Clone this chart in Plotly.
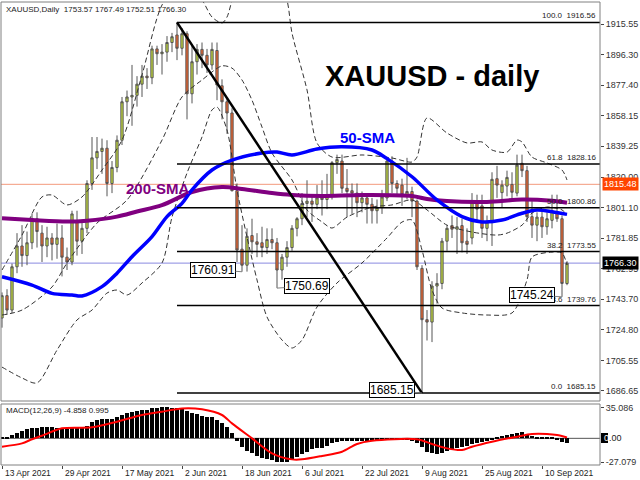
import plotly.graph_objects as go

# ---------------- data ----------------
date_labels = ["13 Apr 2021", "29 Apr 2021", "17 May 2021", "2 Jun 2021", "18 Jun 2021",
               "6 Jul 2021", "22 Jul 2021", "9 Aug 2021", "25 Aug 2021", "10 Sep 2021"]
date_label_idx = [0, 12, 24, 36, 48, 60, 72, 84, 96, 108]

open_ = [1732, 1746, 1737, 1764, 1777, 1771, 1779, 1794, 1785, 1777,
         1782, 1778, 1782, 1770, 1767, 1792, 1780, 1788, 1816, 1832,
         1836, 1838, 1816, 1826, 1843, 1867, 1870, 1871, 1878, 1883,
         1882, 1900, 1897, 1898, 1904, 1908.7, 1900.4, 1909.5, 1872, 1892,
         1899.7, 1896, 1890, 1899, 1877, 1867, 1860, 1811.5, 1775, 1765,
         1783.5, 1779.6, 1779, 1776, 1781, 1779, 1762, 1770, 1776, 1788,
         1794, 1803.5, 1805, 1803, 1807, 1806, 1808, 1829, 1830, 1813,
         1811.5, 1810, 1804, 1807, 1803, 1799, 1801, 1807, 1830, 1816,
         1815, 1809, 1811, 1805, 1763, 1731, 1729.5, 1752, 1753.6, 1780,
         1789.7, 1787.5, 1789.7, 1780, 1782, 1804.6, 1802, 1788, 1792, 1819,
         1810.3, 1814.4, 1815.4, 1810, 1828.6, 1824, 1795.3, 1790, 1795, 1789,
         1793, 1797.5, 1794, 1753.57]
high = [1748, 1750, 1766, 1785, 1790, 1786, 1797, 1798, 1790, 1789,
        1785, 1791, 1790, 1776, 1799, 1799, 1793, 1818, 1845, 1845,
        1844, 1843, 1830, 1846, 1870, 1874, 1890, 1883, 1890, 1888,
        1902, 1902, 1903, 1908, 1910, 1916.56, 1913, 1911, 1903, 1903,
        1904, 1900, 1904, 1904, 1881, 1870, 1863, 1816, 1790, 1788,
        1794, 1785, 1789, 1788, 1788, 1782, 1772, 1780, 1790, 1795,
        1810, 1818, 1808, 1815, 1818, 1822, 1830, 1834, 1834, 1825,
        1816, 1816, 1811, 1810, 1807, 1806, 1812, 1832, 1833, 1818,
        1819, 1832, 1814, 1806, 1765, 1737, 1755, 1760, 1782, 1790,
        1796, 1795, 1794, 1788, 1810, 1809, 1809, 1796, 1823, 1827,
        1818, 1824, 1823, 1834, 1834, 1827, 1805, 1798, 1800, 1798,
        1809, 1809, 1796, 1767.49]
low = [1726, 1734, 1735, 1760, 1764, 1765, 1775, 1776, 1767, 1770,
       1768, 1769, 1758, 1762, 1765, 1771, 1772, 1785, 1812, 1825,
       1822, 1808, 1810, 1823, 1840, 1858, 1852, 1864, 1870, 1875,
       1878, 1890, 1884, 1892, 1898, 1893, 1896, 1856, 1866, 1884,
       1888, 1885, 1887, 1868, 1856, 1847, 1811, 1767, 1760.91, 1761,
       1772, 1770, 1770, 1772, 1775, 1750.69, 1756, 1764, 1774, 1783,
       1790, 1795, 1792, 1800, 1796, 1800, 1806, 1822, 1810, 1795,
       1797, 1795, 1798, 1791, 1791, 1791, 1797, 1805, 1810, 1808,
       1802, 1806, 1795, 1762, 1685.15, 1718, 1717, 1741, 1750, 1774,
       1782, 1772, 1773, 1772, 1778, 1792, 1782, 1780, 1777, 1807,
       1801, 1808, 1806, 1808, 1820, 1792, 1782, 1780, 1782, 1784,
       1788, 1792, 1745.24, 1752.51]
close = [1746, 1737, 1764, 1777, 1771, 1779, 1794, 1786, 1777, 1782,
         1778, 1782, 1770, 1767, 1797, 1780, 1788, 1816, 1832, 1836,
         1838, 1816, 1826, 1843, 1867, 1870, 1871, 1878, 1883, 1882,
         1900, 1897, 1898, 1904, 1907.6, 1900.4, 1909.5, 1872, 1892, 1899.7,
         1896, 1890, 1899.7, 1877.5, 1867, 1860, 1811.5, 1774.5, 1765, 1783,
         1779.6, 1778, 1776, 1781, 1779, 1762, 1770, 1776, 1788, 1794,
         1803.5, 1805, 1803, 1807, 1806, 1808, 1829, 1831, 1813, 1811,
         1810, 1804, 1807, 1803, 1799, 1801, 1807.6, 1830, 1816, 1813,
         1809, 1811, 1805, 1764, 1731, 1729.5, 1752, 1753.6, 1780, 1788,
         1787.5, 1789, 1779, 1778, 1804.6, 1800, 1788, 1792, 1818.6, 1815,
         1815, 1819.8, 1810.5, 1827.5, 1824, 1795.3, 1790, 1795, 1789, 1794,
         1799, 1794, 1753.6, 1766.30]

sma50_idx = [0, 6, 10, 14, 16, 20, 23, 26, 30, 33, 36, 38, 42, 46, 52, 55, 58, 63,
             68, 74, 77, 82, 87, 92, 96, 100, 104, 107, 110, 113]
sma50_val = [1757.8, 1752.6, 1747.4, 1746.4, 1745.8, 1751.6, 1760, 1770.3, 1782.8,
             1795.3, 1803.6, 1812, 1824.4, 1830.6, 1835, 1835.6, 1833.8, 1837.5,
             1838.9, 1836.9, 1831.5, 1820.2, 1805.7, 1795.3, 1792, 1793.2, 1797.4,
             1799.4, 1798.4, 1796.7]

sma200_idx = [0, 6, 13, 17, 23, 27, 32, 38, 44, 48, 54, 58, 64, 72, 82, 85, 89, 97,
              104, 110, 113]
sma200_val = [1794.3, 1793.2, 1792.2, 1792.8, 1795.3, 1798.5, 1802.5, 1810.7, 1813.8,
              1812.6, 1810, 1808.8, 1808.2, 1808.8, 1808.2, 1806.3, 1805, 1804.5,
              1806, 1805.2, 1804]

bb_up_idx = [0, 4, 8, 10, 13, 16, 20, 24, 28, 32, 36, 40, 42, 44, 45, 46, 49, 54, 57,
             58, 61, 63, 66, 72, 78, 82, 83, 85, 89, 93, 96, 98, 101, 103, 104, 106,
             109, 112, 113]
bb_up_val = [1762, 1783.8, 1807.6, 1808.8, 1802.6, 1807.6, 1824.4, 1843.1, 1883.7,
             1927.4, 1943, 1930.5, 1919.9, 1916.2, 1919.9, 1930.5, 1968, 1956, 1930.5,
             1909.9, 1874.4, 1841.3, 1832.5, 1833.8, 1831.9, 1829.4, 1832.5, 1856.9,
             1847.5, 1841.3, 1841.9, 1836.9, 1835.6, 1843.1, 1841.9, 1832.5, 1828.8,
             1824.4, 1818.2]

bb_mid_idx = [0, 4, 10, 13, 19, 25, 32, 36, 40, 44, 46, 48, 50, 52, 54, 58, 61, 64,
              66, 69, 74, 78, 82, 85, 89, 94, 99, 101, 104, 106, 109, 112, 113]
bb_mid_val = [1733.9, 1737, 1751.4, 1766.4, 1791.3, 1805.7, 1843.1, 1870, 1880.6,
              1889.4, 1888, 1880.6, 1868, 1851.2, 1835, 1818.2, 1799.5, 1792, 1788.2,
              1795, 1801.3, 1802.6, 1805.7, 1799.5, 1790, 1785.7, 1783.8, 1785, 1790,
              1797.5, 1801.3, 1799.5, 1796.3]

bb_lo_idx = [0, 4, 7, 11, 15, 18, 21, 23, 25, 28, 32, 34, 37, 40, 42, 43, 45, 47, 49,
             51, 53, 56, 58, 60, 63, 67, 72, 77, 80, 82, 84, 86, 88, 92, 97, 102, 105,
             106, 110, 112, 113]
bb_lo_val = [1701.4, 1694.6, 1691.5, 1712, 1730.8, 1737, 1747.6, 1749.5, 1746.4,
             1753.9, 1766.4, 1795, 1822.5, 1845, 1861.9, 1863.7, 1849.4, 1811.9,
             1782.6, 1755.8, 1732.7, 1718.3, 1713.3, 1718.3, 1738.9, 1753.9, 1766.4,
             1782, 1791.9, 1793.2, 1774.5, 1749.5, 1738.3, 1735.2, 1733.9, 1735.2,
             1755.8, 1770.1, 1773.2, 1772.6, 1765.1]

macd_hist = [1, 1, 3.8, 5.7, 8.3, 10.2, 11.4, 12.1, 12.5, 12.5,
             12.5, 12.1, 11.4, 11, 11.4, 11.4, 12.1, 14, 18.9, 20.8,
             22, 22, 22.3, 23.9, 26.5, 28.4, 29.5, 31, 32.2, 32.6,
             34, 34.8, 35.086, 35.086, 35, 34.8, 34, 31.4, 28.4, 27.3,
             25.8, 24.6, 23.9, 20.8, 17, 12.5, 6.4, -2.7, -9.5, -14,
             -17, -20, -22, -23.9, -24.6, -26.5, -27.079, -26.5, -23.9, -20.8,
             -17.8, -15.2, -12.5, -11.4, -11.4, -8.7, -5.7, -3.8, -3, -2.7,
             -2.7, -2.7, -2.7, -2.7, -2.7, -2.3, -2.3, -1.9, -1.5, -1.9,
             -1.9, -1.9, -2.7, -4.9, -10.2, -15.2, -17, -18.2, -16.3, -14,
             -12.5, -10.6, -9.5, -8.3, -6.4, -4.9, -3.8, -2.7, -0.8, 1.1,
             2.7, 3.8, 4.5, 6.4, 7.6, 4.9, 2.7, 1.9, 1.1, 0.8,
             0.8, -0.8, -3.8, -4.858]

sig_idx = [0, 4, 6, 8, 12, 18, 23, 28, 32, 36, 40, 44, 46, 50, 54, 58, 60, 64, 68,
           71, 74, 83, 86, 89, 92, 94, 98, 103, 106, 109, 111, 113]
sig_val = [-9.5, -5.7, -1.0, 3, 11.4, 12.5, 18.9, 26.5, 30.3, 34, 33, 26.5, 17, 0,
           -17, -23.9, -23.9, -20, -15.2, -6.4, -2.7, -1.1, -6.4, -11.4, -13.3, -9.5,
           -3.8, 1.9, 4.9, 4.9, 3.8, 0.995]

price_ticks = [1915.55, 1896.30, 1877.40, 1858.15, 1839.25, 1820.00, 1801.10,
               1781.85, 1762.95, 1743.70, 1724.80, 1705.55, 1686.65]
macd_ticks = [35.086, -27.079]
fib_levels = [0.0, 23.6, 38.2, 50.0, 61.8, 100.0]
low_label_idx = [48, 55, 84, 112]
ref_line = 1815.48

# ---------------- geometry helpers (pixels -> paper) ----------------
W, H = 640, 480
ML, MR, MT, MB = 1, 40, 2, 15
PW, PH = W - ML - MR, H - MT - MB


def px(x):
    return (x - ML) / PW


def py(y):
    return (H - MB - y) / PH


FONT = "Liberation Sans, Arial, sans-serif"
idx = list(range(len(close)))
X_MIN, X_MAX = -0.2, 119.6

fig = go.Figure()

fig.add_trace(go.Candlestick(
    x=idx, open=open_, high=high, low=low, close=close,
    increasing=dict(fillcolor="#c5dc3b", line=dict(color="#555555", width=1)),
    decreasing=dict(fillcolor="#f3652b", line=dict(color="#555555", width=1)),
    whiskerwidth=0, showlegend=False, hoverinfo="skip"))

for bx, bv in [(bb_up_idx, bb_up_val), (bb_mid_idx, bb_mid_val), (bb_lo_idx, bb_lo_val)]:
    fig.add_trace(go.Scatter(x=bx, y=bv, mode="lines", showlegend=False, hoverinfo="skip",
                             line=dict(color="#333333", width=1, dash="5px,3px",
                                       shape="spline", smoothing=0.8)))

fig.add_trace(go.Scatter(x=sma200_idx, y=sma200_val, mode="lines", showlegend=False,
                         hoverinfo="skip",
                         line=dict(color="#800080", width=4, shape="spline", smoothing=0.9)))
fig.add_trace(go.Scatter(x=sma50_idx, y=sma50_val, mode="lines", showlegend=False,
                         hoverinfo="skip",
                         line=dict(color="#0000ff", width=3.5, shape="spline", smoothing=0.9)))

fig.add_trace(go.Bar(x=idx, y=macd_hist, width=0.78, yaxis="y2", showlegend=False,
                     hoverinfo="skip", marker=dict(color="black", line=dict(width=0))))
fig.add_trace(go.Scatter(x=sig_idx, y=sig_val, mode="lines", yaxis="y2", showlegend=False,
                         hoverinfo="skip",
                         line=dict(color="#ff0000", width=2, shape="spline", smoothing=0.8)))

# ---------------- shapes ----------------
shapes = []
fib_hi, fib_lo = max(high), min(low)
hi_i, lo_i = high.index(fib_hi), low.index(fib_lo)

shapes.append(dict(type="line", xref="paper", yref="y", x0=0, x1=1, y0=ref_line, y1=ref_line,
                   line=dict(color="#f39a7c", width=1), layer="below"))
shapes.append(dict(type="line", xref="paper", yref="y", x0=0, x1=1, y0=close[-1], y1=close[-1],
                   line=dict(color="#8a8ae0", width=1), layer="below"))
fib_prices = []
for lvl in fib_levels:
    p = fib_lo + (fib_hi - fib_lo) * lvl / 100.0
    fib_prices.append(p)
    shapes.append(dict(type="line", xref="x", yref="y", x0=hi_i, x1=X_MAX, y0=p, y1=p,
                       line=dict(color="black", width=1.5)))
shapes.append(dict(type="line", xref="x", yref="y", x0=hi_i, y0=fib_hi, x1=lo_i, y1=fib_lo,
                   line=dict(color="black", width=2.5)))
shapes.append(dict(type="line", xref="paper", yref="y2", x0=0, x1=1, y0=0, y1=0,
                   line=dict(color="#555555", width=1), layer="below"))
# panel frames
shapes.append(dict(type="rect", xref="paper", yref="paper", x0=0, x1=1, y0=py(401), y1=1,
                   line=dict(color="#808080", width=1)))
shapes.append(dict(type="rect", xref="paper", yref="paper", x0=0, x1=1, y0=0, y1=py(404),
                   line=dict(color="#808080", width=1)))
# small black marker behind the MACD zero label
shapes.append(dict(type="rect", xref="paper", yref="paper", x0=px(601), x1=px(608),
                   y0=py(443), y1=py(433), fillcolor="black", line=dict(width=0)))

# ---------------- annotations ----------------
ann = []
o, h, l, c = open_[-1], high[-1], low[-1], close[-1]
ann.append(dict(xref="paper", yref="paper", x=px(4), y=py(3), xanchor="left", yanchor="top",
                text=f"XAUUSD,Daily\u00a0\u00a0{o:.2f} {h:.2f} {l:.2f} {c:.2f}",
                showarrow=False, font=dict(family=FONT, size=8, color="#222")))
ann.append(dict(xref="paper", yref="paper", x=px(4), y=py(404), xanchor="left", yanchor="top",
                text=f"MACD(12,26,9) {macd_hist[-1]:.3f} {sig_val[-1]:.3f}",
                showarrow=False, font=dict(family=FONT, size=8, color="#222")))
ann.append(dict(xref="paper", yref="paper", x=px(431.5), y=py(76), xanchor="center",
                yanchor="middle", text="<b>XAUUSD - daily</b>", showarrow=False,
                font=dict(family=FONT, size=29, color="black")))
ann.append(dict(xref="paper", yref="paper", x=px(367.5), y=py(137.5), xanchor="center",
                yanchor="middle", text="<b>50-SMA</b>", showarrow=False,
                font=dict(family=FONT, size=15, color="#0000ff")))
ann.append(dict(xref="paper", yref="paper", x=px(157.5), y=py(188), xanchor="center",
                yanchor="middle", text="<b>200-SMA</b>", showarrow=False,
                font=dict(family=FONT, size=15, color="#800080")))

for lvl, p in zip(fib_levels, fib_prices):
    ann.append(dict(xref="paper", yref="y", x=px(598), y=p, xanchor="right", yanchor="bottom",
                    yshift=0, text=f"{lvl:.1f}\u00a0\u00a0{p:.2f}", showarrow=False,
                    font=dict(family=FONT, size=8, color="#222")))

offsets = {48: (-29, -2), 55: (30, -2), 84: (-30, -3), 112: (-30, -2)}
for i in low_label_idx:
    ax, ay = offsets[i]
    ann.append(dict(xref="x", yref="y", x=i, y=low[i], text=f"{low[i]:.2f}",
                    showarrow=True, arrowhead=0, arrowwidth=1, arrowcolor="#808080",
                    ax=ax, ay=ay, bgcolor="white", bordercolor="black", borderwidth=1,
                    borderpad=0, font=dict(family=FONT, size=12, color="black")))

for i, lab in zip(date_label_idx, date_labels):
    ann.append(dict(xref="x", yref="paper", x=i, y=0, xanchor="left", yanchor="top",
                    xshift=1, yshift=-1, text=lab, showarrow=False,
                    font=dict(family=FONT, size=8.5, color="#222")))

# price tags on the right axis
ann.append(dict(xref="paper", yref="y", x=1, y=ref_line, xanchor="left", yanchor="middle",
                xshift=2, text=f"{ref_line:.2f}", showarrow=False, bgcolor="#ff4500",
                borderpad=1, font=dict(family=FONT, size=9, color="white")))
ann.append(dict(xref="paper", yref="y", x=1, y=close[-1], xanchor="left", yanchor="middle",
                xshift=2, text=f"{close[-1]:.2f}", showarrow=False, bgcolor="black",
                borderpad=1, font=dict(family=FONT, size=9, color="white")))
ann.append(dict(xref="paper", yref="y2", x=1, y=0, xanchor="left", yanchor="middle",
                xshift=2, text="<span style='color:white'>0</span>.00", showarrow=False,
                font=dict(family=FONT, size=9, color="#222")))

fig.update_layout(
    width=W, height=H,
    margin=dict(l=ML, r=MR, t=MT, b=MB),
    paper_bgcolor="white", plot_bgcolor="white",
    showlegend=False, boxgap=0.35, bargap=0,
    shapes=shapes, annotations=ann,
    xaxis=dict(range=[X_MIN, X_MAX], anchor="y2", showgrid=False, zeroline=False,
               tickvals=date_label_idx, ticks="outside", ticklen=3, tickcolor="#444",
               showticklabels=False, rangeslider=dict(visible=False), showline=False,
               fixedrange=True),
    yaxis=dict(domain=[py(401), 1], range=[1680.23, 1929.28], side="right", anchor="x",
               tickvals=price_ticks, ticktext=[f"{v:.2f}" for v in price_ticks],
               ticks="outside", ticklen=3, tickcolor="#444",
               tickfont=dict(family=FONT, size=9, color="#333"),
               showgrid=False, zeroline=False, showline=False),
    yaxis2=dict(domain=[0, py(404)], range=[-30.3, 39], side="right", anchor="x",
                tickvals=macd_ticks, ticktext=[f"{v:.3f}" for v in macd_ticks],
                ticks="outside", ticklen=3, tickcolor="#444",
                tickfont=dict(family=FONT, size=9, color="#333"),
                showgrid=False, zeroline=False, showline=False),
)

fig.write_html("out.html", config={"displayModeBar": False},
               post_script="document.body.style.margin='0px';document.body.style.padding='0px';")
